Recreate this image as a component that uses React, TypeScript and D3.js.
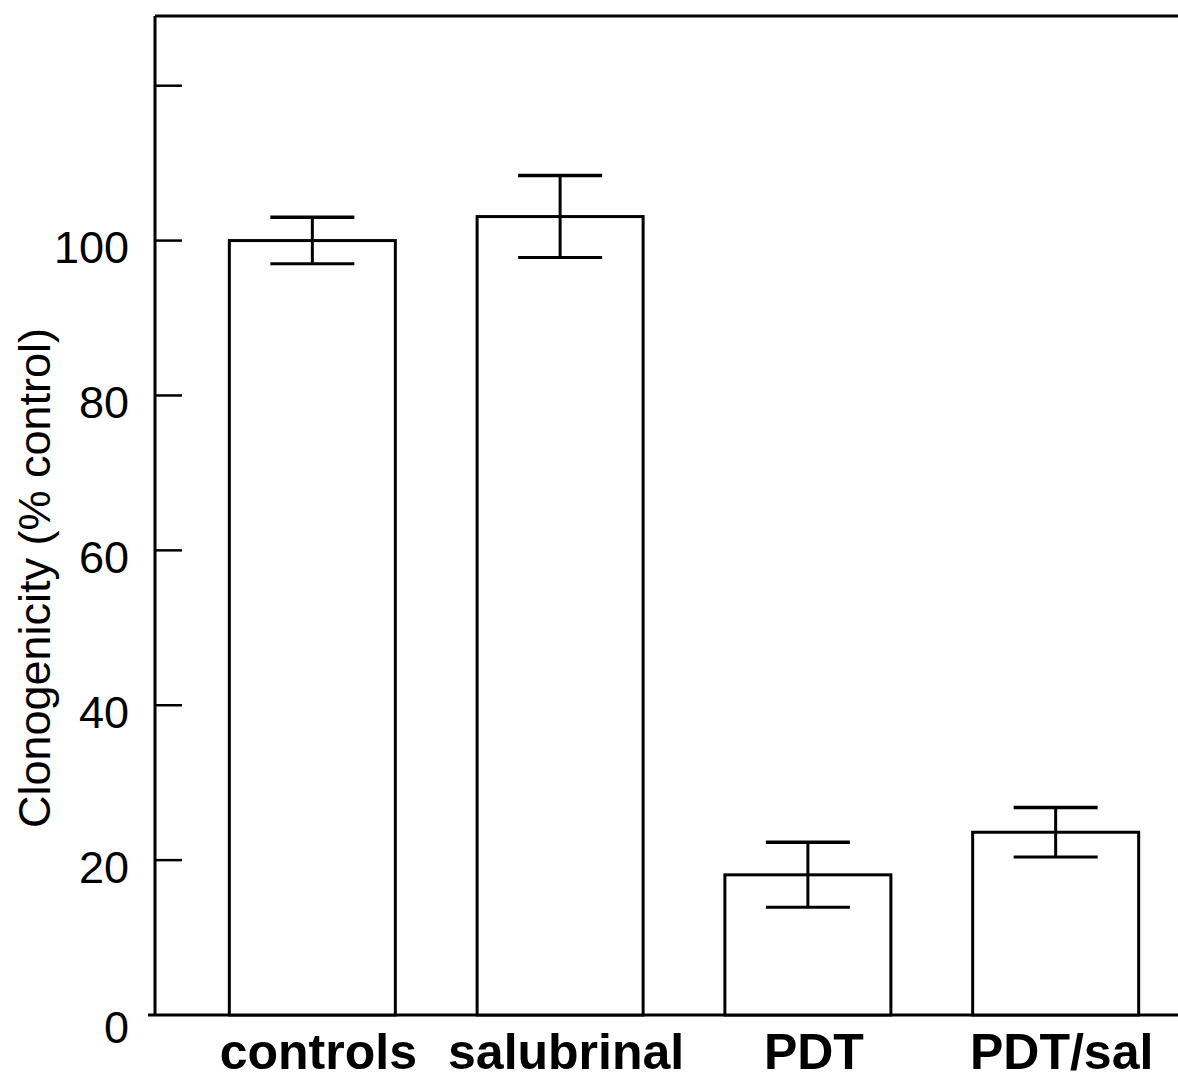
import React from 'react';
import * as d3 from 'd3';

// values
const groups = ['controls', 'salubrinal', 'PDT', 'PDT/sal'];
const means = [100, 103.1, 18.1, 23.6];
const errors = [3.0, 5.3, 4.2, 3.2];
const yTicks = [0, 20, 40, 60, 80, 100, 120];
const yLabels = ['0', '20', '40', '60', '80', '100', ''];

const W = 1178;
const H = 1081;
const left = 155;
const bottom = 1015;
const top = 16;

export default function App() {
  const x = d3.scaleBand<string>()
    .domain(groups)
    .range([left, 1213])
    .paddingInner(0.33)
    .paddingOuter(0.3);

  const y = d3.scaleLinear().domain([0, 129]).range([bottom, top]);

  const capHalf = 42;
  const font = 'Liberation Sans, Arial, Helvetica, sans-serif';

  return (
    <svg width={W} height={H} style={{ position: 'absolute', left: 0, top: 0, background: '#fff' }}>
      {/* frame */}
      <line x1={left} x2={W + 10} y1={y(129)} y2={y(129)} stroke="#000" strokeWidth={3} />
      <line x1={left} x2={left} y1={y(129)} y2={bottom} stroke="#000" strokeWidth={3} />
      <line x1={left - 7} x2={W + 10} y1={bottom} y2={bottom} stroke="#000" strokeWidth={3} />

      {/* y ticks, inward */}
      {yTicks.map((t, i) => (
        <g key={t}>
          {t > 0 && <line x1={left} x2={left + 27} y1={y(t)} y2={y(t)} stroke="#000" strokeWidth={2.5} />}
          <text x={129} y={y(t)} dy={t === 0 ? '0.62em' : '0.5em'} textAnchor="end"
            fontFamily={font} fontSize={45} fill="#000">{yLabels[i]}</text>
        </g>
      ))}

      <text transform={`translate(50,578) rotate(-90)`} textAnchor="middle"
        fontFamily={font} fontSize={45} fill="#000">Clonogenicity (% control)</text>

      {/* bars */}
      {groups.map((g, i) => {
        const cx = (x(g) as number) + x.bandwidth() / 2;
        return (
          <g key={g}>
            <rect x={x(g)} y={y(means[i])} width={x.bandwidth()} height={bottom - y(means[i])}
              fill="#fff" stroke="#000" strokeWidth={3} />
            <line x1={cx} x2={cx} y1={y(means[i] + errors[i])} y2={y(means[i] - errors[i])} stroke="#000" strokeWidth={3} />
            <line x1={cx - capHalf} x2={cx + capHalf} y1={y(means[i] + errors[i])} y2={y(means[i] + errors[i])} stroke="#000" strokeWidth={3.5} />
            <line x1={cx - capHalf} x2={cx + capHalf} y1={y(means[i] - errors[i])} y2={y(means[i] - errors[i])} stroke="#000" strokeWidth={3} />
            <text x={cx + 6} y={1069} textAnchor="middle" fontFamily={font} fontWeight="bold"
              fontSize={50} fill="#000">{g}</text>
          </g>
        );
      })}
    </svg>
  );
}
